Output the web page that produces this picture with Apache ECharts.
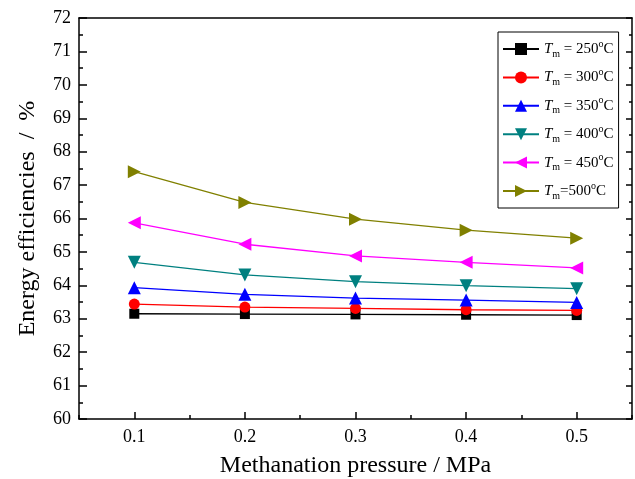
<!DOCTYPE html>
<html><head><meta charset="utf-8">
<script src="https://cdn.jsdelivr.net/npm/echarts@6/dist/echarts.min.js"></script>
<style>html,body{margin:0;padding:0;background:#fff}#c{width:635px;height:479px}</style>
</head><body><div id="c"></div>
<script>
const pressures = [0.1, 0.2, 0.3, 0.4, 0.5];
const temps = ['250', '300', '350', '400', '450', '500'];
const eff250 = [63.15, 63.14, 63.13, 63.12, 63.11];
const eff300 = [63.44, 63.35, 63.31, 63.27, 63.25];
const eff350 = [63.93, 63.73, 63.62, 63.56, 63.49];
const eff400 = [64.69, 64.31, 64.11, 63.99, 63.90];
const eff450 = [65.87, 65.23, 64.88, 64.69, 64.52];
const eff500 = [67.40, 66.48, 65.98, 65.65, 65.41];
const xMinorTicks = [0.05, 0.15, 0.25, 0.35, 0.45, 0.55];

const allEff = [eff250, eff300, eff350, eff400, eff450, eff500];
const colors = ['#000000', '#ff0000', '#0000ff', '#008080', '#ff00ff', '#808000'];
const symbols = ['rect', 'circle', 'triangle', 'triangle', 'triangle', 'triangle'];
const rots = [0, 0, 0, 180, 90, -90];
const sizes = [10, 11, 13, 13, 13, 13];
const names = temps.map((t, i) => 'Tm ' + (i === 5 ? '=' : '= ') + t + '°C');

const font = '"Liberation Serif", "Times New Roman", serif';
const chart = echarts.init(document.getElementById('c'));
const series = allEff.map((arr, i) => ({
  name: names[i], type: 'line', xAxisIndex: 0, yAxisIndex: 0,
  data: pressures.map((p, j) => [p, arr[j]]),
  symbol: symbols[i], symbolRotate: rots[i], symbolSize: sizes[i],
  lineStyle: {color: colors[i], width: 1.3},
  itemStyle: {color: colors[i]},
  emphasis: {disabled: true}, animation: false
}));
const axisLineStyle = {color: '#000', width: 1.5};
chart.setOption({
  backgroundColor: '#fff',
  animation: false,
  grid: {left: 79, right: 3, top: 18, bottom: 60, outerBoundsMode: 'none', containLabel: false},
  legend: {
    orient: 'vertical', left: 498, top: 32, width: 119,
    padding: [7, 5, 7, 4], itemGap: 8.4, itemWidth: 36, itemHeight: 15,
    borderColor: '#000', borderWidth: 1, backgroundColor: '#fff',
    data: names,
    formatter: function (name) {
      const i = names.indexOf(name);
      return '{i|T}{s|m}{n|' + (i === 5 ? '=' : ' = ') + temps[i] + '}{o|o}{n|C}';
    },
    textStyle: {
      fontFamily: font, fontSize: 15, color: '#000',
      rich: {
        i: {fontFamily: font, fontSize: 15, fontStyle: 'italic', lineHeight: 20},
        s: {fontFamily: font, fontSize: 10, lineHeight: 8, verticalAlign: 'bottom'},
        n: {fontFamily: font, fontSize: 15, lineHeight: 20},
        o: {fontFamily: font, fontSize: 10, lineHeight: 14, verticalAlign: 'top'}
      }
    }
  },
  xAxis: [{
    type: 'value', min: 0.05, max: 0.55, position: 'bottom',
    name: 'Methanation pressure / MPa', nameLocation: 'middle', nameGap: 35,
    nameTextStyle: {fontFamily: font, fontSize: 24, color: '#000'},
    axisLine: {show: true, lineStyle: axisLineStyle},
    axisTick: {show: true, inside: true, length: 7, lineStyle: axisLineStyle, customValues: pressures},
    axisLabel: {fontFamily: font, fontSize: 18, color: '#000', margin: 9, customValues: pressures},
    splitLine: {show: false}
  }, {
    type: 'value', min: 0.05, max: 0.55, position: 'bottom',
    axisLine: {show: false},
    axisTick: {show: true, inside: true, length: 4, lineStyle: axisLineStyle, customValues: xMinorTicks},
    axisLabel: {show: false}, splitLine: {show: false}
  }, {
    type: 'value', min: 0.05, max: 0.55, position: 'top',
    axisLine: {show: true, lineStyle: axisLineStyle},
    axisTick: {show: false}, axisLabel: {show: false}, splitLine: {show: false}
  }],
  yAxis: [{
    type: 'value', min: 60, max: 72, interval: 1, position: 'left',
    name: 'Energy efficiencies  /  %', nameLocation: 'middle', nameGap: 39,
    nameTextStyle: {fontFamily: font, fontSize: 24, color: '#000'},
    axisLine: {show: true, lineStyle: axisLineStyle},
    axisTick: {show: true, inside: true, length: 8, lineStyle: axisLineStyle},
    minorTick: {show: true, splitNumber: 2, length: 4, lineStyle: axisLineStyle},
    axisLabel: {fontFamily: font, fontSize: 18, color: '#000', margin: 8},
    splitLine: {show: false}
  }, {
    type: 'value', min: 60, max: 72, interval: 1, position: 'right',
    axisLine: {show: true, lineStyle: axisLineStyle},
    axisTick: {show: true, inside: true, length: 6, lineStyle: axisLineStyle},
    minorTick: {show: true, splitNumber: 2, length: 3, lineStyle: axisLineStyle},
    axisLabel: {show: false}, splitLine: {show: false}
  }],
  series: series
});
</script></body></html>
